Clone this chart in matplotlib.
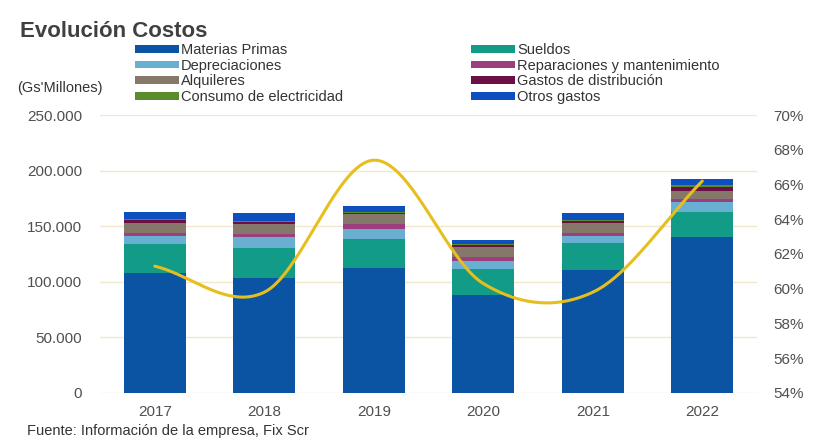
import matplotlib
matplotlib.use("Agg")
import matplotlib.pyplot as plt
import numpy as np
from matplotlib.patches import Patch
from matplotlib.ticker import FuncFormatter

plt.rcParams["font.family"] = ["Liberation Sans", "DejaVu Sans"]

years = ["2017", "2018", "2019", "2020", "2021", "2022"]

# Gs' millones
materias_primas = [108200, 103700, 112700, 87800, 110300, 140600]
sueldos = [25500, 27000, 25800, 23400, 24300, 22500]
depreciaciones = [7500, 9300, 9300, 7200, 6600, 9000]
reparaciones = [3000, 3000, 3900, 3600, 3000, 2000]
alquileres = [9000, 8700, 9000, 9000, 8700, 8000]
gastos_distribucion = [2000, 2000, 1500, 1800, 2000, 3000]
consumo_electricidad = [1000, 1000, 1000, 1000, 1000, 1500]
otros_gastos = [6300, 7400, 5400, 4200, 6300, 6000]

# ratio line (%)
ratio_pct = [61.3, 59.8, 67.4, 60.3, 59.8, 66.2]

series = [
    ("Materias Primas", materias_primas, "#0a54a3"),
    ("Sueldos", sueldos, "#129c87"),
    ("Depreciaciones", depreciaciones, "#68afd2"),
    ("Reparaciones y mantenimiento", reparaciones, "#9c3f7f"),
    ("Alquileres", alquileres, "#857769"),
    ("Gastos de distribución", gastos_distribucion, "#6a1045"),
    ("Consumo de electricidad", consumo_electricidad, "#5b8c2b"),
    ("Otros gastos", otros_gastos, "#0d4fbf"),
]


def smooth_curve(y, n=40):
    # Catmull-Rom style smoothing, like a spreadsheet "smoothed line"
    y = np.asarray(y, dtype=float)
    x = np.arange(len(y), dtype=float)
    m = np.zeros_like(y)
    m[1:-1] = (y[2:] - y[:-2]) / 2
    m[0] = y[1] - y[0]
    m[-1] = y[-1] - y[-2]
    xs, ys = [], []
    for i in range(len(y) - 1):
        t = np.linspace(0, 1, n)
        h00 = 2 * t**3 - 3 * t**2 + 1
        h10 = t**3 - 2 * t**2 + t
        h01 = -2 * t**3 + 3 * t**2
        h11 = t**3 - t**2
        xs.append(x[i] + t)
        ys.append(h00 * y[i] + h10 * m[i] + h01 * y[i + 1] + h11 * m[i + 1])
    return np.concatenate(xs), np.concatenate(ys)


fig = plt.figure(figsize=(8.22, 4.43), dpi=100)
ax = fig.add_axes([0.1217, 0.1129, 0.7993, 0.6275])

x = np.arange(len(years))
bottom = np.zeros(len(years))
handles = []
for label, vals, color in series:
    ax.bar(x, vals, bottom=bottom, width=0.566, color=color, zorder=2)
    bottom += np.asarray(vals)
    handles.append(Patch(facecolor=color, label=label))

ax.set_xlim(-0.5, len(years) - 0.5)
ax.set_ylim(0, 250000)
ax.set_yticks(np.arange(0, 250001, 50000))
ax.yaxis.set_major_formatter(FuncFormatter(lambda v, p: f"{int(v):,}".replace(",", ".")))
ax.set_xticks(x)
ax.set_xticklabels(years)
ax.grid(axis="y", color="#f1e7cc", linewidth=1, zorder=0)
for s in ax.spines.values():
    s.set_visible(False)
ax.tick_params(axis="both", length=0, labelsize=11, colors="#505050")
ax.tick_params(axis="y", pad=13)
ax.tick_params(axis="x", pad=9)

ax2 = ax.twinx()
ax2.set_ylim(54, 70)
ax2.set_yticks(np.arange(54, 71, 2))
ax2.yaxis.set_major_formatter(FuncFormatter(lambda v, p: f"{int(v)}%"))
for s in ax2.spines.values():
    s.set_visible(False)
ax2.tick_params(axis="y", length=0, labelsize=11, colors="#505050", pad=12)
cx, cy = smooth_curve(ratio_pct)
ax2.plot(cx, cy, color="#e6bf1e", linewidth=2.2, solid_capstyle="round", zorder=3)

fig.text(0.024, 0.928, "Evolución Costos", fontsize=16, fontweight="bold",
         color="#404040", va="center")
fig.text(0.021, 0.801, "(Gs'Millones)", fontsize=10.5, color="#333333", va="center")
fig.text(0.033, 0.026, "Fuente: Información de la empresa, Fix Scr", fontsize=10.5,
         color="#333333", va="center")

leg_kw = dict(frameon=False, fontsize=10.5, handlelength=3.0, handleheight=0.45,
              handletextpad=0.15, labelspacing=0.12, borderpad=0, borderaxespad=0)
leg1 = fig.legend(handles=handles[0::2], loc="upper left",
                  bbox_to_anchor=(0.164, 0.903), **leg_kw)
leg2 = fig.legend(handles=handles[1::2], loc="upper left",
                  bbox_to_anchor=(0.573, 0.903), **leg_kw)
for leg in (leg1, leg2):
    for t in leg.get_texts():
        t.set_color("#333333")

fig.savefig("out.png", dpi=100)
